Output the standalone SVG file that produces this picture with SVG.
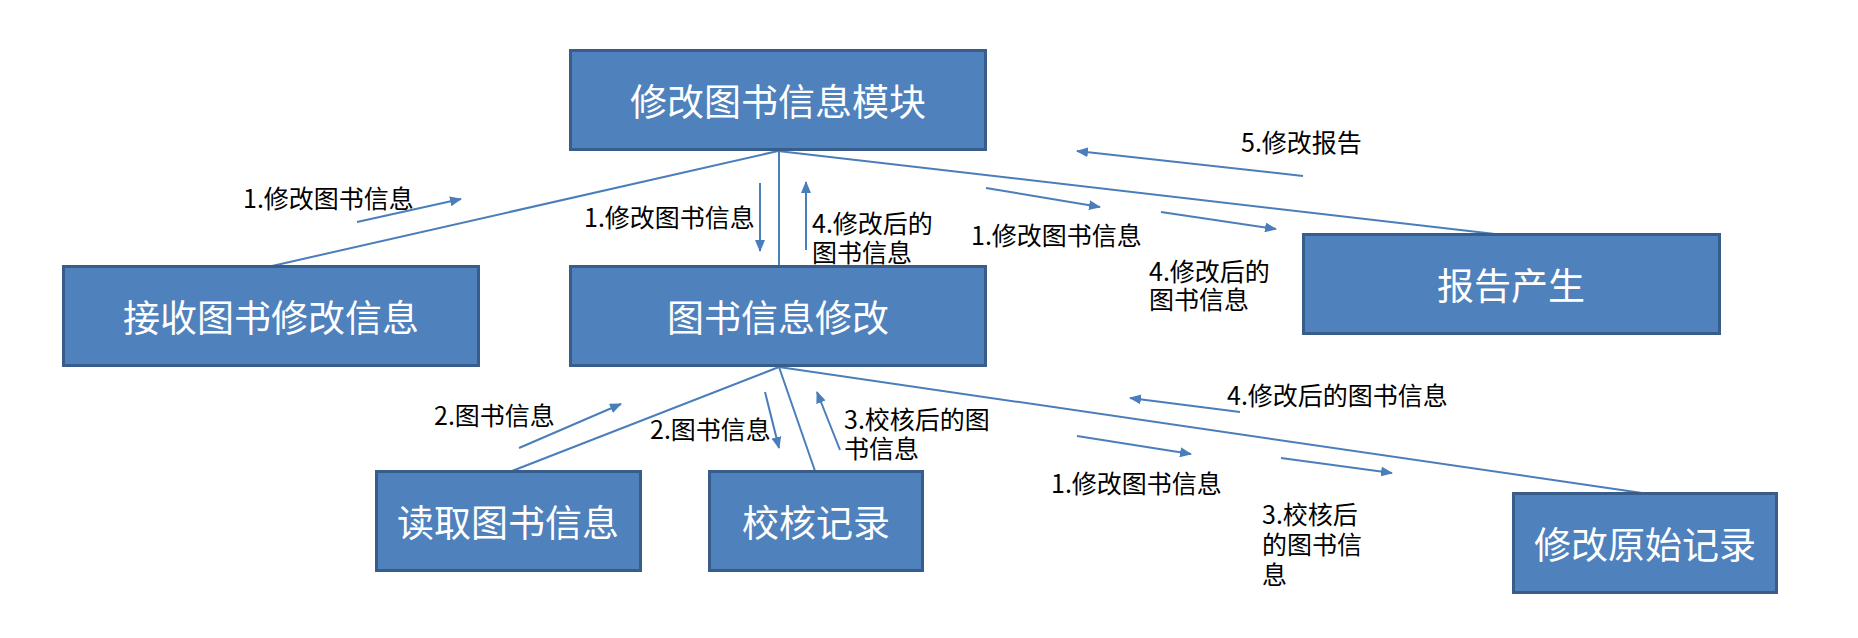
<svg xmlns="http://www.w3.org/2000/svg" width="1858" height="638" viewBox="0 0 1858 638">
<style>
.box{fill:#4F81BD;stroke:#385D8A;stroke-width:3}
.bt{fill:#FFFFFF;font-family:"Noto Sans CJK SC","Noto Sans",sans-serif;font-size:37px;text-anchor:middle;dominant-baseline:central}
.ln{stroke:#4A7EBB;stroke-width:2;fill:none}
.ar{stroke:#4A7EBB;stroke-width:2;fill:none;marker-end:url(#ah)}
.lb{fill:#000000;font-family:"Noto Sans CJK SC","Noto Sans",sans-serif;font-size:25px}
</style>
<defs>
<marker id="ah" viewBox="0 0 12 10" refX="11" refY="5" markerWidth="12" markerHeight="10" markerUnits="userSpaceOnUse" orient="auto">
<path d="M0,0 L12,5 L0,10 Z" fill="#4A7EBB"/>
</marker>
</defs>
<g id="connectors">
<line class="ln" x1="778" y1="151" x2="272" y2="266"/>
<line class="ln" x1="779" y1="151" x2="779" y2="266"/>
<line class="ln" x1="778" y1="151" x2="1495" y2="234"/>
<line class="ln" x1="779" y1="367" x2="512" y2="471"/>
<line class="ln" x1="779" y1="367" x2="815" y2="471"/>
<line class="ln" x1="779" y1="367" x2="1642" y2="493"/>
<line class="ar" x1="357" y1="222" x2="461" y2="199"/>
<line class="ar" x1="760" y1="183" x2="760" y2="251"/>
<line class="ar" x1="806" y1="250" x2="806" y2="182"/>
<line class="ar" x1="1303" y1="176" x2="1077" y2="151"/>
<line class="ar" x1="986" y1="188" x2="1100" y2="207"/>
<line class="ar" x1="1161" y1="212" x2="1276" y2="229"/>
<line class="ar" x1="519" y1="448" x2="621" y2="404"/>
<line class="ar" x1="765" y1="392" x2="779" y2="448"/>
<line class="ar" x1="840" y1="450" x2="817" y2="392"/>
<line class="ar" x1="1240" y1="412" x2="1130" y2="398"/>
<line class="ar" x1="1077" y1="436" x2="1191" y2="454"/>
<line class="ar" x1="1281" y1="458" x2="1392" y2="473"/>
<text class="lb" x="243" y="208">1.修改图书信息</text>
<text class="lb" x="584" y="227">1.修改图书信息</text>
<text class="lb" x="812" y="233">4.修改后的<tspan x="812" y="262">图书信息</tspan></text>
<text class="lb" x="1241" y="152">5.修改报告</text>
<text class="lb" x="971" y="245">1.修改图书信息</text>
<text class="lb" x="1149" y="281">4.修改后的<tspan x="1149" y="309">图书信息</tspan></text>
<text class="lb" x="434" y="425">2.图书信息</text>
<text class="lb" x="650" y="439">2.图书信息</text>
<text class="lb" x="844" y="429">3.校核后的图<tspan x="844" y="458">书信息</tspan></text>
<text class="lb" x="1227" y="405">4.修改后的图书信息</text>
<text class="lb" x="1051" y="493">1.修改图书信息</text>
<text class="lb" x="1262" y="524">3.校核后<tspan x="1262" y="554">的图书信</tspan><tspan x="1262" y="584">息</tspan></text>
</g>
<g id="n-module">
<rect class="box" x="570.5" y="50.5" width="415" height="99"/>
<text class="bt" x="778" y="100">修改图书信息模块</text>
</g>
<g id="n-receive">
<rect class="box" x="63.5" y="266.5" width="415" height="99"/>
<text class="bt" x="271" y="316">接收图书修改信息</text>
</g>
<g id="n-modify">
<rect class="box" x="570.5" y="266.5" width="415" height="99"/>
<text class="bt" x="778" y="316">图书信息修改</text>
</g>
<g id="n-report">
<rect class="box" x="1303.5" y="234.5" width="416" height="99"/>
<text class="bt" x="1511" y="284">报告产生</text>
</g>
<g id="n-read">
<rect class="box" x="376.5" y="471.5" width="264" height="99"/>
<text class="bt" x="508" y="521">读取图书信息</text>
</g>
<g id="n-check">
<rect class="box" x="709.5" y="471.5" width="213" height="99"/>
<text class="bt" x="816" y="521">校核记录</text>
</g>
<g id="n-original">
<rect class="box" x="1513.5" y="493.5" width="263" height="99"/>
<text class="bt" x="1645" y="543">修改原始记录</text>
</g>
</svg>
